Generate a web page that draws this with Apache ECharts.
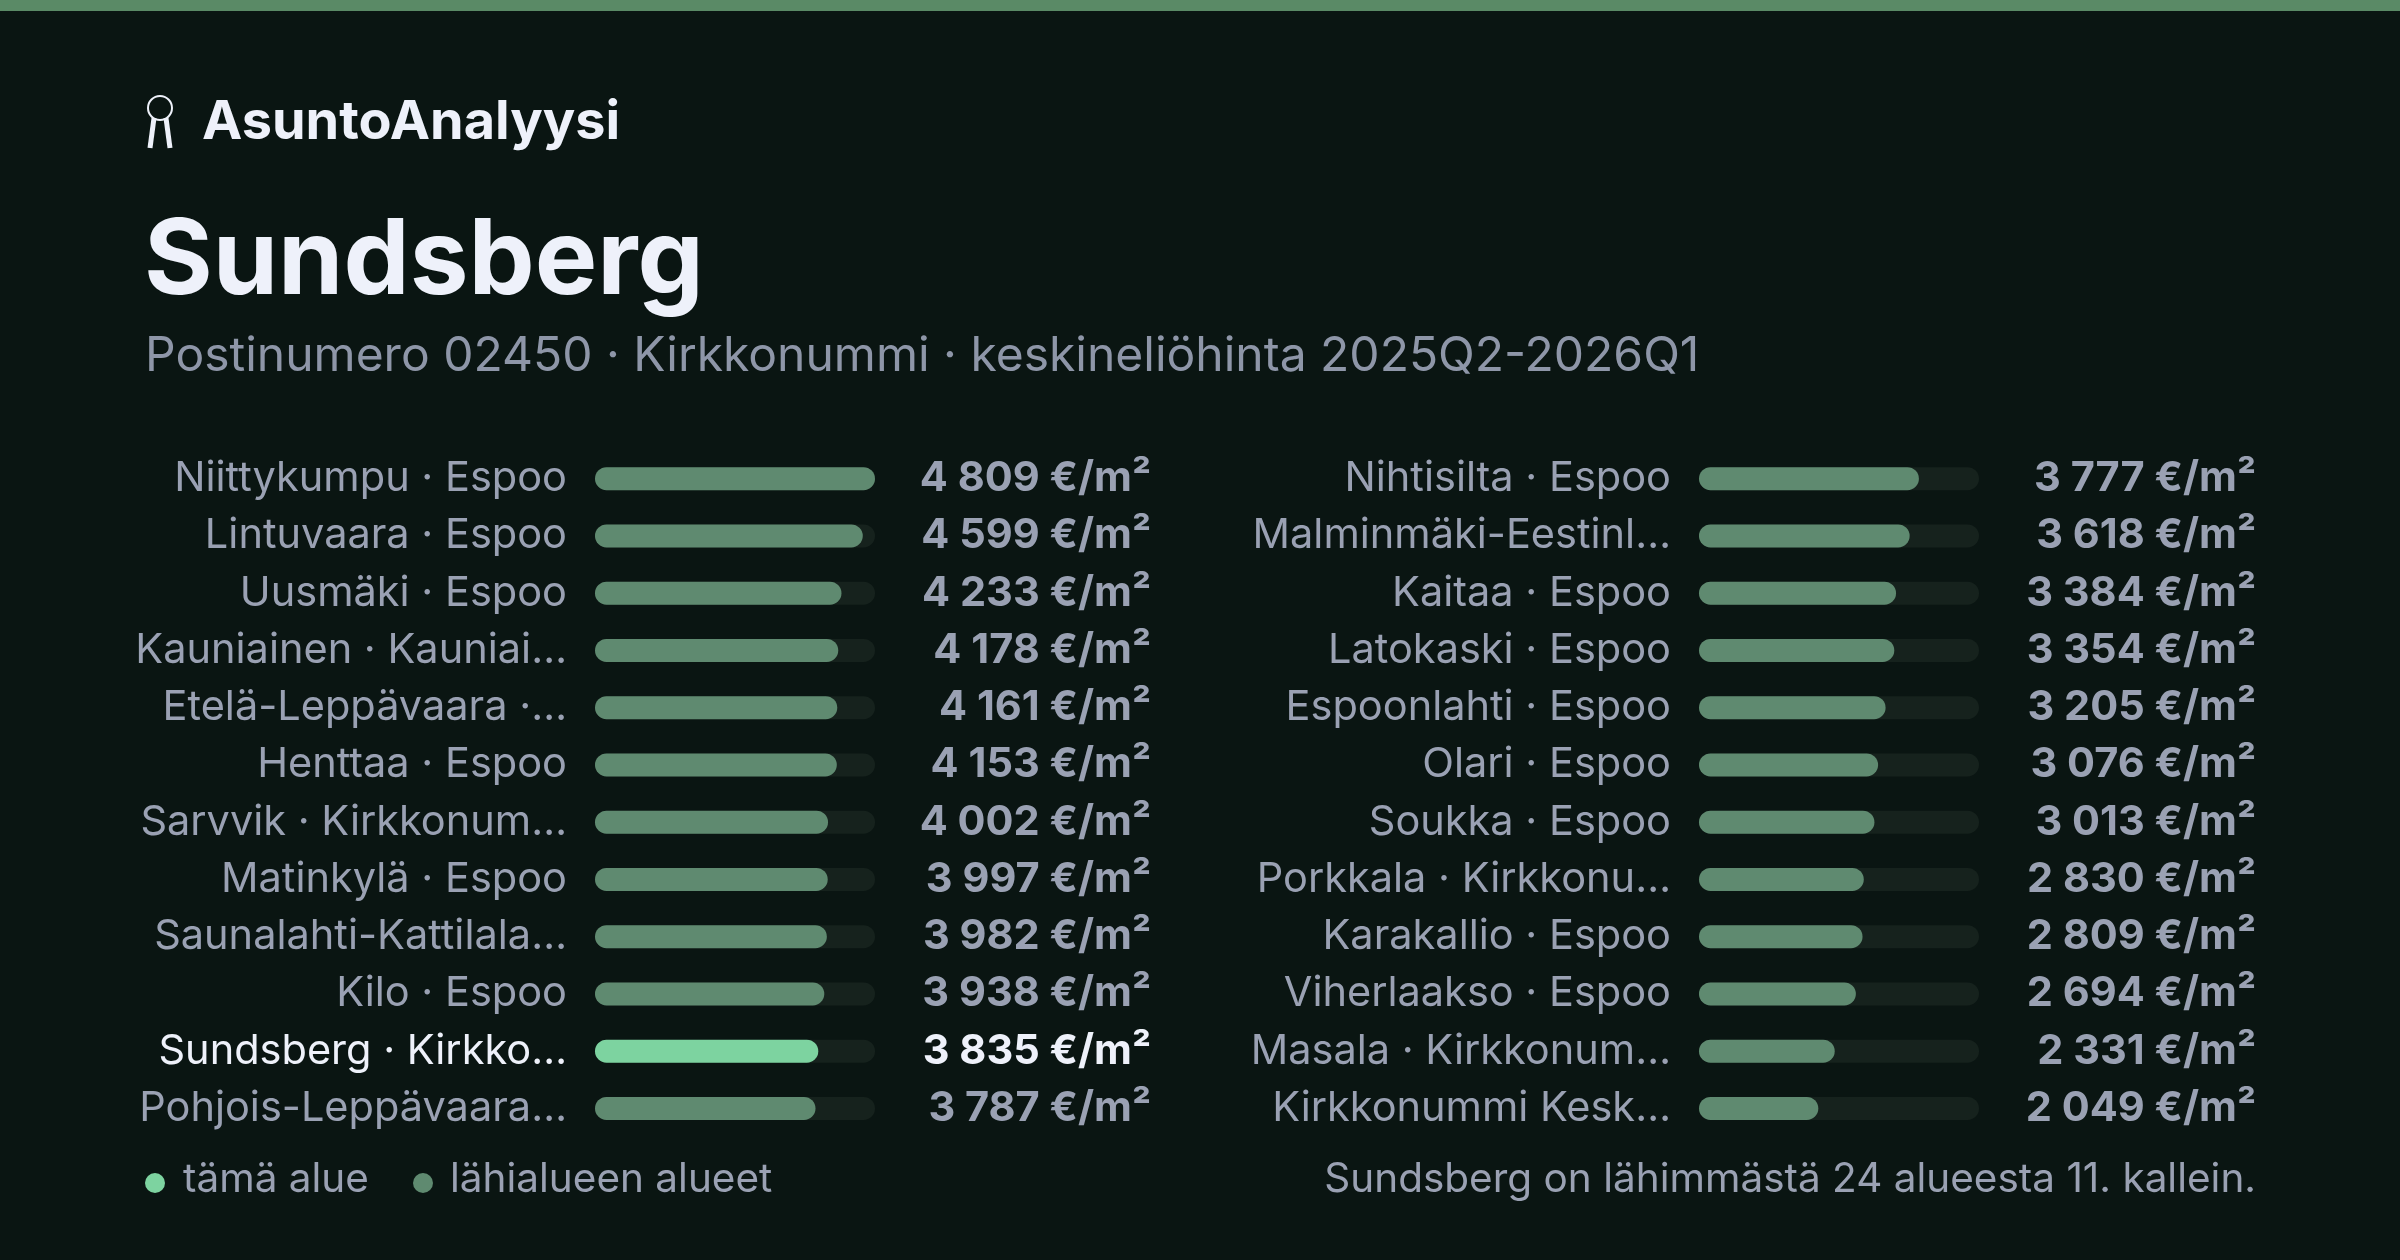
<!DOCTYPE html>
<html><head><meta charset="utf-8">
<script src="https://cdn.jsdelivr.net/npm/echarts@6/dist/echarts.min.js"></script>
<style>html,body{margin:0;padding:0;background:#0a1512}#c{width:2400px;height:1260px}</style>
</head><body><div id="c"></div>
<script>
const leftNames = ["Niittykumpu · Espoo","Lintuvaara · Espoo","Uusmäki · Espoo","Kauniainen · Kauniai…","Etelä-Leppävaara ·…","Henttaa · Espoo","Sarvvik · Kirkkonum…","Matinkylä · Espoo","Saunalahti-Kattilala…","Kilo · Espoo","Sundsberg · Kirkko…","Pohjois-Leppävaara…"];
const leftValues = [4809,4599,4233,4178,4161,4153,4002,3997,3982,3938,3835,3787];
const rightNames = ["Nihtisilta · Espoo","Malminmäki-Eestinl…","Kaitaa · Espoo","Latokaski · Espoo","Espoonlahti · Espoo","Olari · Espoo","Soukka · Espoo","Porkkala · Kirkkonu…","Karakallio · Espoo","Viherlaakso · Espoo","Masala · Kirkkonum…","Kirkkonummi Kesk…"];
const rightValues = [3777,3618,3384,3354,3205,3076,3013,2830,2809,2694,2331,2049];
const highlightName = "Sundsberg · Kirkko…";
const maxValue = 4809;

const FONT = 'Inter, "Noto Sans", sans-serif';
const fmt = v => String(v).replace(/\B(?=(\d{3})+(?!\d))/g, ' ') + ' €/m²';
const C_LABEL = '#9aa1b3', C_HI = '#eef1fa', C_BAR = '#5f8a70', C_BARHI = '#7dd3a0', C_TRACK = '#16221d';

const gTop = 450, gH = 687;
function mk(idx, names, values, left, right) {
  const grid = {left: left, width: 280, top: gTop, height: gH};
  const yA = {gridIndex: idx, type: 'category', data: names, inverse: true,
    axisLine:{show:false}, axisTick:{show:false}, splitLine:{show:false},
    axisLabel:{margin: 28, fontSize: 41.5, fontFamily: FONT,
      color: (v) => v === highlightName ? C_HI : C_LABEL}};
  const yB = {gridIndex: idx, type: 'category', data: values.map(fmt), inverse: true, position: 'right',
    axisLine:{show:false}, axisTick:{show:false}, splitLine:{show:false},
    axisLabel:{margin: right, align: 'right', fontSize: 41.5, fontWeight: 'bold', fontFamily: FONT,
      color: (v, i) => names[i] === highlightName ? C_HI : C_LABEL}};
  const xA = {gridIndex: idx, type: 'value', min: 0, max: maxValue, show: false};
  const s = {type: 'bar', xAxisIndex: idx, yAxisIndex: idx*2, barWidth: 23,
    showBackground: true, backgroundStyle: {color: C_TRACK, borderRadius: 12},
    data: values.map((v, i) => ({value: v, itemStyle: {color: names[i] === highlightName ? C_BARHI : C_BAR, borderRadius: 12}})),
    silent: true, animation: false};
  return {grid, yA, yB, xA, s};
}
const L = mk(0, leftNames, leftValues, 595, 276);
const R = mk(1, rightNames, rightValues, 1699, 277);

const chart = echarts.init(document.getElementById('c'));
chart.setOption({
  backgroundColor: '#0a1512',
  animation: false,
  grid: [L.grid, R.grid],
  xAxis: [L.xA, R.xA],
  yAxis: [L.yA, L.yB, R.yA, R.yB],
  series: [L.s, R.s],
  graphic: [
    {type:'rect', shape:{x:0,y:0,width:2400,height:11}, style:{fill:'#5a8a66'}},
    {type:'circle', shape:{cx:160,cy:108,r:12}, style:{fill:'none',stroke:'#eef1fa',lineWidth:2}},
    {type:'polyline', shape:{points:[[154,118],[150,148]]}, style:{stroke:'#eef1fa',lineWidth:5}},
    {type:'polyline', shape:{points:[[166,118],[170,148]]}, style:{stroke:'#eef1fa',lineWidth:5}},
    {type:'text', x:202, y:123, style:{text:'AsuntoAnalyysi', fill:'#eef1fa', font:'bold 54px '+FONT, verticalAlign:'middle'}},
    {type:'text', x:144, y:262, style:{text:'Sundsberg', fill:'#eef1fa', font:'bold 105px '+FONT, verticalAlign:'middle'}},
    {type:'text', x:145, y:357, style:{text:'Postinumero 02450 · Kirkkonummi · keskineliöhinta 2025Q2-2026Q1', fill:'#8e96a8', font:'48px '+FONT, verticalAlign:'middle'}},
    {type:'circle', shape:{cx:155,cy:1183,r:10}, style:{fill:C_BARHI}},
    {type:'text', x:183, y:1180, style:{text:'tämä alue', fill:C_LABEL, font:'40.5px '+FONT, verticalAlign:'middle'}},
    {type:'circle', shape:{cx:423,cy:1183,r:10}, style:{fill:C_BAR}},
    {type:'text', x:450, y:1180, style:{text:'lähialueen alueet', fill:C_LABEL, font:'40.5px '+FONT, verticalAlign:'middle'}},
    {type:'text', x:2256, y:1180, style:{text:'Sundsberg on lähimmästä 24 alueesta 11. kallein.', fill:C_LABEL, font:'40.5px '+FONT, verticalAlign:'middle', align:'right'}}
  ]
});
</script></body></html>
